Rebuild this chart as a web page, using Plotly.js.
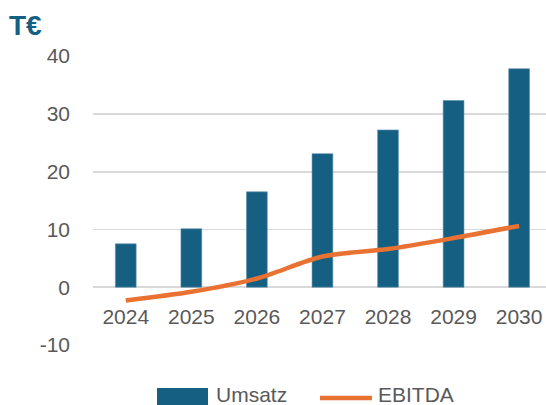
<!DOCTYPE html>
<html>
<head>
<meta charset="utf-8">
<script src="https://cdn.plot.ly/plotly-3.0.1.min.js"></script>
<style>html,body{margin:0;padding:0;background:#fff;}#chart{width:546px;height:405px;}</style>
</head>
<body>
<div id="chart"></div>
<script>
const years = ['2024', '2025', '2026', '2027', '2028', '2029', '2030'];
const umsatz = [7.5, 10.1, 16.5, 23.1, 27.2, 32.3, 37.8];
const ebitda = [-2.3, -0.8, 1.5, 5.3, 6.6, 8.5, 10.6];
const yTicks = [-10, 0, 10, 20, 30, 40];
const yTickText = ['-10', '0', '10', '20', '30', '40'];
const seriesNames = ['Umsatz', 'EBITDA'];
const unitLabel = 'T€';

const blue = '#156082';
const orange = '#E97132';
const font = 'Liberation Sans, Arial, sans-serif';

// plot area in pixels: x 93..546, y 56..345
const L = 93, R = 546, T = 56, B = 345;
const px = v => (v - L) / (R - L);
const py = v => (B - v) / (B - T);

const data = [
  {type: 'bar', x: years, y: umsatz, name: seriesNames[0], marker: {color: blue, line: {color: '#5a8fab', width: 0.6}}, width: 0.317, showlegend: false, hoverinfo: 'none'},
  {type: 'scatter', mode: 'lines', x: years, y: ebitda, name: seriesNames[1], line: {color: orange, width: 4.5, shape: 'spline', smoothing: 0.8}, showlegend: false, hoverinfo: 'none'}
];

const layout = {
  width: 546, height: 405,
  margin: {l: L, r: 0, t: T, b: 405 - B, autoexpand: false},
  paper_bgcolor: '#fff', plot_bgcolor: '#fff',
  font: {family: font, color: '#595959', size: 21},
  title: {text: '<b>' + unitLabel + '</b>', x: 9 / 546, xanchor: 'left', xref: 'container', y: 1 - 25 / 405, yanchor: 'middle', yref: 'container', font: {family: font, size: 28, color: blue}},
  xaxis: {type: 'category', range: [-0.5, 6.41], anchor: 'free', position: 0.2, showline: false, showgrid: false, zeroline: false, ticks: '', ticklabelstandoff: 15, tickfont: {size: 21, color: '#595959'}},
  yaxis: {range: [-10, 40], tickvals: yTicks, ticktext: yTickText, showgrid: true, gridcolor: '#d9d9d9', gridwidth: 1.8, zeroline: true, zerolinecolor: '#d9d9d9', zerolinewidth: 1.8, showline: false, ticks: '', ticklabelstandoff: 22, tickfont: {size: 21, color: '#595959'}},
  shapes: [
    {type: 'rect', xref: 'paper', yref: 'paper', x0: px(157), x1: px(208), y0: py(412), y1: py(388), fillcolor: blue, line: {width: 0}},
    {type: 'line', xref: 'paper', yref: 'paper', x0: px(320), x1: px(372), y0: py(398), y1: py(398), line: {color: orange, width: 4.5}}
  ],
  annotations: [
    {xref: 'paper', yref: 'paper', x: px(214), y: py(394), xanchor: 'left', yanchor: 'middle', text: seriesNames[0], showarrow: false, font: {size: 21, color: '#595959'}},
    {xref: 'paper', yref: 'paper', x: px(376), y: py(394), xanchor: 'left', yanchor: 'middle', text: seriesNames[1], showarrow: false, font: {size: 21, color: '#595959'}}
  ]
};

Plotly.newPlot('chart', data, layout, {staticPlot: true, displayModeBar: false});
</script>
</body>
</html>
